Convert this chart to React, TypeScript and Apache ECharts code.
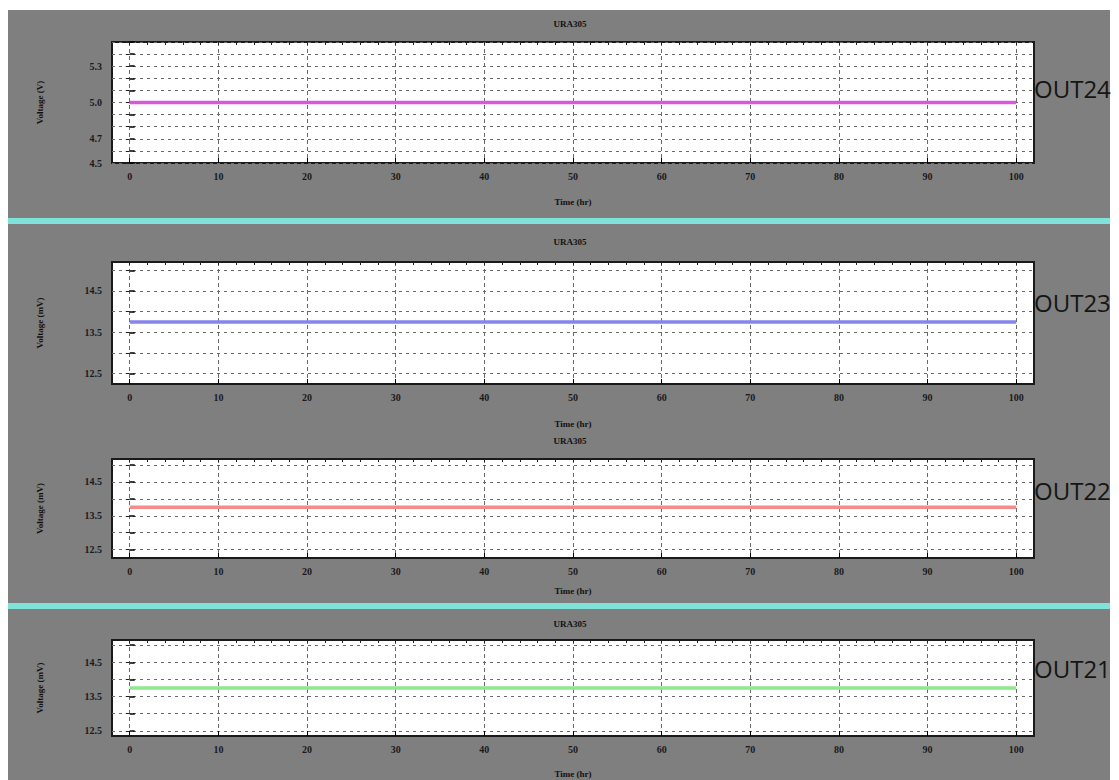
import React, { useEffect, useRef } from "react";
import * as echarts from "echarts";

// ---- data ----
const timeHours = [0, 10, 20, 30, 40, 50, 60, 70, 80, 90, 100];
const out24Volts = [5.0, 5.0, 5.0, 5.0, 5.0, 5.0, 5.0, 5.0, 5.0, 5.0, 5.0];
const out23MilliVolts = [13.75, 13.75, 13.75, 13.75, 13.75, 13.75, 13.75, 13.75, 13.75, 13.75, 13.75];
const out22MilliVolts = [13.75, 13.75, 13.75, 13.75, 13.75, 13.75, 13.75, 13.75, 13.75, 13.75, 13.75];
const out21MilliVolts = [13.75, 13.75, 13.75, 13.75, 13.75, 13.75, 13.75, 13.75, 13.75, 13.75, 13.75];

const xTickLabels = [0, 10, 20, 30, 40, 50, 60, 70, 80, 90, 100];
const yTickLabelsVolts = [4.5, 4.7, 5.0, 5.3];
const yGridVolts = [4.5, 4.6, 4.7, 4.8, 4.9, 5.0, 5.1, 5.2, 5.3, 5.4, 5.5];
const yTickLabelsMilliVolts = [12.5, 13.5, 14.5];
const yGridMilliVolts = [12.5, 13.0, 13.5, 14.0, 14.5, 15.0];

const panelTitles = ["URA305", "URA305", "URA305", "URA305"];
const outLabels = ["OUT24", "OUT23", "OUT22", "OUT21"];
const yAxisNames = ["Voltage (V)", "Voltage (mV)", "Voltage (mV)", "Voltage (mV)"];
const xAxisName = "Time (hr)";
const seriesValues = [out24Volts, out23MilliVolts, out22MilliVolts, out21MilliVolts];

// ---- styling / layout ----
const lineColors = ["#d957d9", "#8585ea", "#f28c8c", "#8ee88e"];
const grids = [
  { top: 42, height: 121, yMin: 4.5, yMax: 5.5, titleTop: 14, nameGap: 34 },
  { top: 262, height: 122, yMin: 12.25, yMax: 15.2, titleTop: 232, nameGap: 35 },
  { top: 459, height: 99, yMin: 12.25, yMax: 15.18, titleTop: 431, nameGap: 28 },
  { top: 640, height: 96, yMin: 12.35, yMax: 15.15, titleTop: 614, nameGap: 33 },
];
const outLabelY = [88, 302, 490, 668];
const GRID_LEFT = 112;
const GRID_WIDTH = 922;
const serif = "'Liberation Serif', 'DejaVu Serif', serif";
const topTicks = Array.from({ length: 51 }, (_, i) => i * 2);

export default function App() {
  const ref = useRef<HTMLDivElement>(null);

  useEffect(() => {
    if (!ref.current) return;
    const chart = echarts.init(ref.current, null, { renderer: "svg" });

    const xAxis: any[] = [];
    const yAxis: any[] = [];
    const series: any[] = [];
    const title: any[] = [];

    grids.forEach((g, i) => {
      const isVolt = i === 0;
      const yLabels = isVolt ? yTickLabelsVolts : yTickLabelsMilliVolts;
      const yGrid = isVolt ? yGridVolts : yGridMilliVolts;
      title.push({
        text: panelTitles[i],
        left: 565,
        textAlign: "center",
        top: g.titleTop,
        textStyle: { fontFamily: serif, fontSize: 9, fontWeight: "bold", color: "#111" },
      });
      xAxis.push({
        gridIndex: i,
        type: "value",
        min: -2,
        max: 102,
        name: xAxisName,
        nameLocation: "middle",
        nameGap: g.nameGap,
        nameTextStyle: { fontFamily: serif, fontSize: 9, fontWeight: "bold", color: "#111" },
        axisLine: { show: false },
        axisTick: { customValues: xTickLabels, inside: true, length: 5, lineStyle: { color: "#000" } },
        axisLabel: {
          customValues: xTickLabels,
          fontFamily: serif,
          fontSize: 10,
          fontWeight: "bold",
          color: "#1a1a1a",
          margin: 8,
        },
        splitLine: { show: true, lineStyle: { color: "#6a6a6a", type: [4, 3], width: 1 } },
      });
      xAxis.push({
        gridIndex: i,
        type: "value",
        position: "top",
        min: -2,
        max: 102,
        axisLine: { show: false },
        axisTick: { customValues: topTicks, inside: true, length: 3, lineStyle: { color: "#222" } },
        axisLabel: { show: false },
        splitLine: { show: false },
      });
      yAxis.push({
        gridIndex: i,
        type: "value",
        min: g.yMin,
        max: g.yMax,
        name: yAxisNames[i],
        nameLocation: "middle",
        nameGap: 68,
        nameRotate: 90,
        nameTextStyle: { fontFamily: serif, fontSize: 9, fontWeight: "bold", color: "#111" },
        axisLine: { show: false },
        axisTick: { customValues: yGrid, inside: true, length: 5, lineStyle: { color: "#000", width: 1.5 } },
        axisLabel: {
          customValues: yLabels,
          formatter: (v: number) => v.toFixed(1),
          fontFamily: serif,
          fontSize: 10,
          fontWeight: "bold",
          color: "#1a1a1a",
          margin: 10,
        },
        splitLine: { show: true, lineStyle: { color: "#6a6a6a", type: [3, 4], width: 1 } },
      });
      yAxis.push({
        gridIndex: i,
        type: "value",
        position: "right",
        min: g.yMin,
        max: g.yMax,
        axisLine: { show: false },
        axisTick: { customValues: yGrid, inside: true, length: 4, lineStyle: { color: "#222" } },
        axisLabel: { show: false },
        splitLine: { show: false },
      });
      series.push({
        type: "line",
        name: outLabels[i],
        xAxisIndex: 2 * i,
        yAxisIndex: 2 * i,
        data: timeHours.map((t, k) => [t, seriesValues[i][k]]),
        showSymbol: false,
        lineStyle: { color: lineColors[i], width: 3.5 },
        itemStyle: { color: lineColors[i] },
        z: 5,
      });
    });

    chart.setOption({
      animation: false,
      backgroundColor: "#ffffff",
      title,
      grid: grids.map((g) => ({
        left: GRID_LEFT,
        top: g.top,
        width: GRID_WIDTH,
        height: g.height,
        show: true,
        backgroundColor: "#ffffff",
        borderColor: "#1a1a1a",
        borderWidth: 2,
      })),
      xAxis,
      yAxis,
      series,
      graphic: [
        {
          type: "rect",
          z: -100,
          shape: { x: 8, y: 10, width: 1102, height: 770 },
          style: { fill: "#7f7f7f" },
          silent: true,
        },
        {
          type: "rect",
          z: 10,
          shape: { x: 8, y: 218, width: 1102, height: 6 },
          style: { fill: "#80e3da" },
          silent: true,
        },
        {
          type: "rect",
          z: 10,
          shape: { x: 8, y: 603, width: 1102, height: 6 },
          style: { fill: "#80e3da" },
          silent: true,
        },
        ...outLabels.map((t, i) => ({
          type: "text",
          z: 20,
          x: 1034,
          y: outLabelY[i],
          style: {
            text: t,
            fill: "#151515",
            font: "24px 'Open Sans', 'Liberation Sans', sans-serif",
            textVerticalAlign: "middle",
          },
          silent: true,
        })),
      ],
    });

    return () => chart.dispose();
  }, []);

  return (
    <div
      ref={ref}
      style={{ position: "fixed", left: 0, top: 0, width: 1119, height: 780 }}
    />
  );
}
